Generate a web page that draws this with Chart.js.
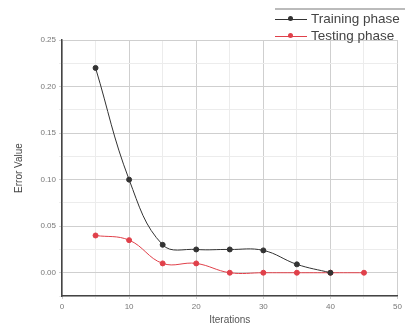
<!DOCTYPE html>
<html>
<head>
<meta charset="utf-8">
<script src="https://cdn.jsdelivr.net/npm/chart.js@4/dist/chart.umd.min.js"></script>
<style>
  html, body { margin: 0; padding: 0; background: #fff; overflow: hidden; }
  #wrap { position: relative; width: 405px; height: 334px; overflow: hidden; }
  #legend { position: absolute; left: 275px; top: 8px; width: 160px; border-top: 2px solid #bbb;
            font-family: "Liberation Sans", Arial, sans-serif; font-size: 13.5px; color: #444; white-space: nowrap; }
  .row { height: 17px; line-height: 17px; display: flex; align-items: center; }
  .sym { position: relative; width: 32px; height: 10px; margin-right: 4px; }
  .sym .ln { position: absolute; left: 0; right: 0; top: 5px; height: 1px; }
  .sym .dot { position: absolute; left: 13px; top: 2.5px; width: 5px; height: 5px; border-radius: 3px; }
</style>
</head>
<body>
<div id="wrap">
  <canvas id="miGrafico" width="405" height="334"></canvas>
  <div id="legend"></div>
</div>
<script>
const iterations = [5, 10, 15, 20, 25, 30, 35, 40, 45];
const trainingError = [0.22, 0.10, 0.030, 0.025, 0.025, 0.024, 0.009, 0.0, null];
const testingError = [0.040, 0.035, 0.010, 0.010, 0.0, 0.0, 0.0, 0.0, 0.0];
const seriesNames = ['Training phase', 'Testing phase'];
const seriesColors = ['#333333', '#e0404a'];

window.addEventListener("load", () => {
    const ctx = document.querySelector('#miGrafico').getContext('2d');

    const toPoints = (vals) => iterations.map((x, i) => ({ x: x, y: vals[i] })).filter(p => p.y !== null);

    const miGrafico = new Chart(ctx, {
        type: 'line',
        data: {
            datasets: [
                {
                    label: seriesNames[0],
                    data: toPoints(trainingError),
                    borderColor: seriesColors[0],
                    backgroundColor: seriesColors[0],
                    borderWidth: 1,
                    pointRadius: 2.5,
                    tension: 0.4
                },
                {
                    label: seriesNames[1],
                    data: toPoints(testingError),
                    borderColor: seriesColors[1],
                    backgroundColor: seriesColors[1],
                    borderWidth: 1,
                    pointRadius: 2.5,
                    tension: 0.4
                }
            ]
        },
        options: {
            responsive: false,
            animation: false,
            layout: { padding: { top: 40, left: 9, right: 0, bottom: 4 } },
            plugins: { legend: { display: false }, tooltip: { enabled: false } },
            scales: {
                x: {
                    type: 'linear',
                    min: 0, max: 50,
                    afterFit: (s) => { s.height = 34; },
                    ticks: {
                        stepSize: 5,
                        color: '#777',
                        font: { family: 'Liberation Sans', size: 8 },
                        maxRotation: 0,
                        callback: (v) => (v % 10 === 0 ? v : '')
                    },
                    grid: {
                        color: (c) => (c.tick && c.tick.value % 10 === 0 ? '#cfcfcf' : '#ececec'),
                        drawTicks: true,
                        tickLength: 3
                    },
                    border: { color: '#444', width: 1.5 },
                    title: { display: true, text: 'Iterations', color: '#555',
                             font: { family: 'Liberation Sans', size: 10 }, padding: { top: 2 } }
                },
                y: {
                    min: -0.025, max: 0.25,
                    afterFit: (s) => { s.width = 53; },
                    ticks: {
                        stepSize: 0.025,
                        color: '#777',
                        font: { family: 'Liberation Sans', size: 8 },
                        callback: (v) => {
                            const r = Math.round(v * 1000);
                            return (r >= 0 && r % 50 === 0) ? (r / 1000).toFixed(2) : '';
                        }
                    },
                    grid: {
                        color: (c) => {
                            const r = c.tick ? Math.round(c.tick.value * 1000) : 1;
                            return (r % 50 === 0) ? '#cfcfcf' : '#ececec';
                        },
                        tickLength: 3
                    },
                    border: { color: '#444', width: 1.5 },
                    title: { display: true, text: 'Error Value', color: '#444',
                             font: { family: 'Liberation Sans', size: 10 }, padding: { bottom: 4 } }
                }
            }
        }
    });

    const legend = document.getElementById('legend');
    seriesNames.forEach((name, i) => {
        const row = document.createElement('div');
        row.className = 'row';
        row.innerHTML = '<span class="sym"><span class="ln" style="background:' + seriesColors[i] +
            '"></span><span class="dot" style="background:' + seriesColors[i] + '"></span></span>' + name;
        legend.appendChild(row);
    });
});
</script>
</body>
</html>
